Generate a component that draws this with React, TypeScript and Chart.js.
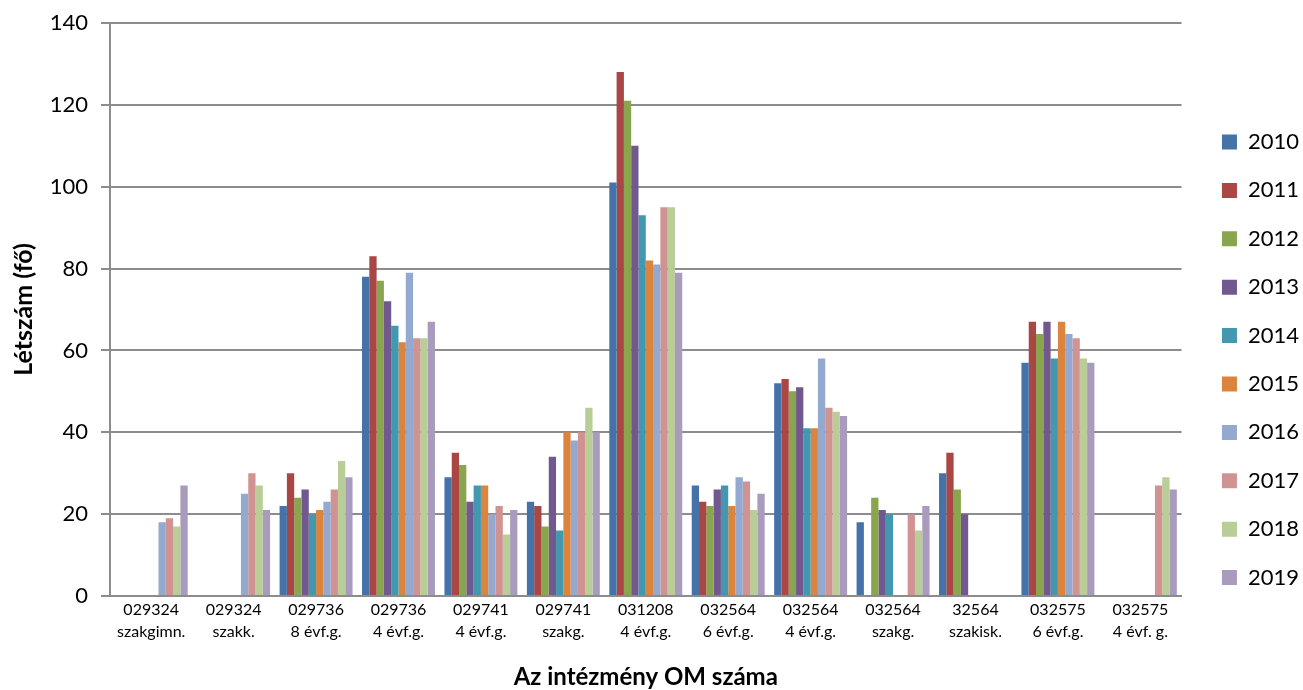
import React, { useEffect, useRef } from "react";
import { Chart, registerables } from "chart.js";

Chart.register(...registerables);

const categories: string[][] = [
  ["029324", "szakgimn."],
  ["029324", "szakk."],
  ["029736", "8 évf.g."],
  ["029736", "4 évf.g."],
  ["029741", "4 évf.g."],
  ["029741", "szakg."],
  ["031208", "4 évf.g."],
  ["032564", "6 évf.g."],
  ["032564", "4 évf.g."],
  ["032564", "szakg."],
  ["32564", "szakisk."],
  ["032575", "6 évf.g."],
  ["032575", "4 évf. g."],
];

const years = ["2010", "2011", "2012", "2013", "2014", "2015", "2016", "2017", "2018", "2019"];

const y2010 = [null, null, 22, 78, 29, 23, 101, 27, 52, 18, 30, 57, null];
const y2011 = [null, null, 30, 83, 35, 22, 128, 23, 53, null, 35, 67, null];
const y2012 = [null, null, 24, 77, 32, 17, 121, 22, 50, 24, 26, 64, null];
const y2013 = [null, null, 26, 72, 23, 34, 110, 26, 51, 21, 20, 67, null];
const y2014 = [null, null, 20, 66, 27, 16, 93, 27, 41, 20, null, 58, null];
const y2015 = [null, null, 21, 62, 27, 40, 82, 22, 41, null, null, 67, null];
const y2016 = [18, 25, 23, 79, 20, 38, 81, 29, 58, null, null, 64, null];
const y2017 = [19, 30, 26, 63, 22, 40, 95, 28, 46, 20, null, 63, 27];
const y2018 = [17, 27, 33, 63, 15, 46, 95, 21, 45, 16, null, 58, 29];
const y2019 = [27, 21, 29, 67, 21, 40, 79, 25, 44, 22, null, 57, 26];

const seriesValues = [y2010, y2011, y2012, y2013, y2014, y2015, y2016, y2017, y2018, y2019];

const colors = [
  "#4672AA",
  "#AA4643",
  "#89A54E",
  "#71588F",
  "#4198AF",
  "#DB843D",
  "#93A9CF",
  "#D19392",
  "#B9CD96",
  "#A99BBD",
];

const FONT = "Lato, 'Open Sans', sans-serif";

export default function App() {
  const ref = useRef<HTMLCanvasElement | null>(null);

  useEffect(() => {
    if (!ref.current) return;
    const chart = new Chart(ref.current, {
      type: "bar",
      data: {
        labels: categories,
        datasets: years.map((y, i) => ({
          label: y,
          data: seriesValues[i],
          backgroundColor: colors[i],
          borderWidth: 0,
          barPercentage: 1,
          categoryPercentage: 0.885,
        })),
      },
      options: {
        animation: false,
        responsive: false,
        maintainAspectRatio: false,
        layout: { padding: { top: 23, bottom: 0, left: 0, right: -6 } },
        plugins: {
          tooltip: { enabled: false },
          legend: {
            position: "right",
            title: { display: true, text: " ", padding: 0, font: { size: 5, lineHeight: 1.32 } },
            labels: {
              boxWidth: 15,
              boxHeight: 15,
              padding: 26.4,
              color: "#000",
              font: { family: FONT, size: 22 },
            },
          },
        },
        scales: {
          x: {
            grid: { display: false, drawTicks: false, tickLength: 0 },
            border: { color: "#8c8c8c", width: 2 },
            ticks: {
              color: "#000",
              font: { family: FONT, size: 16, lineHeight: 1.38 },
              maxRotation: 0,
              autoSkip: false,
              padding: 3,
            },
            title: {
              display: true,
              text: "Az intézmény OM száma",
              color: "#000",
              font: { family: FONT, size: 24, weight: "bold", lineHeight: 1.1 },
              padding: { top: 0, bottom: 0 },
            },
            afterFit: (s: any) => {
              s.height = 94;
            },
          },
          y: {
            min: 0,
            max: 140,
            ticks: {
              stepSize: 20,
              color: "#000",
              font: { family: FONT, size: 22 },
              padding: 13,
            },
            grid: { color: "#8c8c8c", lineWidth: 2, tickLength: 9 },
            border: { color: "#8c8c8c", width: 2 },
            title: {
              display: true,
              text: "Létszám (fő)",
              color: "#000",
              font: { family: FONT, size: 25, weight: "bold" },
              padding: { top: 9, bottom: 0 },
            },
            afterFit: (s: any) => {
              s.width = 110;
              s.paddingTop = 0;
              s.paddingBottom = 0;
            },
          },
          yR: {
            type: "linear",
            position: "right",
            display: true,
            grid: { display: false, drawTicks: false },
            border: { display: false },
            ticks: { display: false },
            afterFit: (s: any) => {
              s.width = 14;
              s.paddingTop = 0;
              s.paddingBottom = 0;
            },
          },
        },
      },
    });
    return () => chart.destroy();
  }, []);

  return (
    <div style={{ position: "fixed", left: 0, top: 0, width: 1303, height: 690, background: "#fff" }}>
      <canvas ref={ref} width={1303} height={690} style={{ width: 1303, height: 690 }} />
    </div>
  );
}
